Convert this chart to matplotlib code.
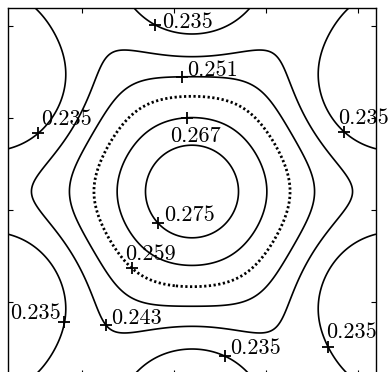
import numpy as np
import matplotlib
matplotlib.use('Agg')
import matplotlib.pyplot as plt

# contour levels (the dotted one is 0.259)
levels = [0.235, 0.243, 0.251, 0.259, 0.267, 0.275]
dotted_level = 0.259

# hexagonal Fourier series: lattice constant and shell weights
lattice_a = 2.272
shell_coeffs = [0.24457, 0.01205, -0.00140, 0.00195, -0.00035]

# clabel style '+' marks: level, approximate place, text offset (pixels), alignment
label_levels = [0.235, 0.251, 0.235, 0.267, 0.275, 0.259, 0.235, 0.243, 0.235, 0.235, 0.235]
label_x = [-0.201, -0.054, -0.832, -0.027, -0.201, -0.326, -0.707, -0.457, 0.179, 0.745, 0.821]
label_y = [0.907, 0.624, 0.313, 0.401, -0.183, -0.417, -0.711, -0.717, -0.902, -0.847, 0.319]
label_dx = [7, 5, 3, -17, 6, -7, -4, 5, 5, -2, -6]
label_dy = [-3, 1, 8, -24, 2, 8, 3, 1, 2, 9, 8]
label_ha = ['left', 'left', 'left', 'left', 'left', 'left', 'right', 'left', 'left', 'left', 'left']

ticks = [-0.6, -0.1, 0.4, 0.9]


def shells(a, nsh):
    k = 2 * np.pi / a
    b1 = k * np.array([1, -1 / np.sqrt(3)])
    b2 = k * np.array([0, 2 / np.sqrt(3)])
    vecs = {}
    for m in range(-5, 6):
        for n in range(-5, 6):
            if m == 0 and n == 0:
                continue
            g = m * b1 + n * b2
            vecs.setdefault(round(float(g @ g) / k ** 2, 3), []).append(g)
    return [np.array(vecs[q]) for q in sorted(vecs)[:nsh]]


def field(x, y):
    z = shell_coeffs[0] * np.ones_like(x)
    for c, sh in zip(shell_coeffs[1:], shells(lattice_a, len(shell_coeffs) - 1)):
        z += c * sum(np.cos(g[0] * x + g[1] * y) for g in sh) / 2
    return z


xx, yy = np.meshgrid(np.linspace(-1, 1, 400), np.linspace(-1, 1, 400))
zz = field(xx, yy)

fig = plt.figure(figsize=(3.89, 3.72), dpi=100)
ax = fig.add_axes([8 / 389, (372 - 375) / 372, 368 / 389, 367 / 372])

styles = [(0, (0.8, 0.9)) if lv == dotted_level else 'solid' for lv in levels]
widths = [2.0 if lv == dotted_level else 1.2 for lv in levels]
cs = ax.contour(xx, yy, zz, levels=levels, colors='k', linestyles=styles, linewidths=widths)

for lv, x, y, dx, dy, ha in zip(label_levels, label_x, label_y, label_dx, label_dy, label_ha):
    i = levels.index(lv)
    res = cs.find_nearest_contour(x, y, indices=[i], pixel=False)
    px, py = res[3], res[4]
    ax.plot(px, py, '+', color='k', ms=9, mew=1.3, clip_on=False)
    ax.annotate('%.3f' % lv, (px, py), xytext=(dx, dy), textcoords='offset pixels',
                ha=ha, va='baseline', fontsize=16, family='cmr10', annotation_clip=False)

ax.set_xlim(-1, 1)
ax.set_ylim(-1, 1)
ax.set_xticks(ticks)
ax.set_yticks(ticks)
ax.tick_params(direction='in', top=True, right=True, length=3.6, width=0.8,
               labelbottom=False, labelleft=False)
for s in ax.spines.values():
    s.set_linewidth(1.0)

fig.savefig('out.png', dpi=100)
